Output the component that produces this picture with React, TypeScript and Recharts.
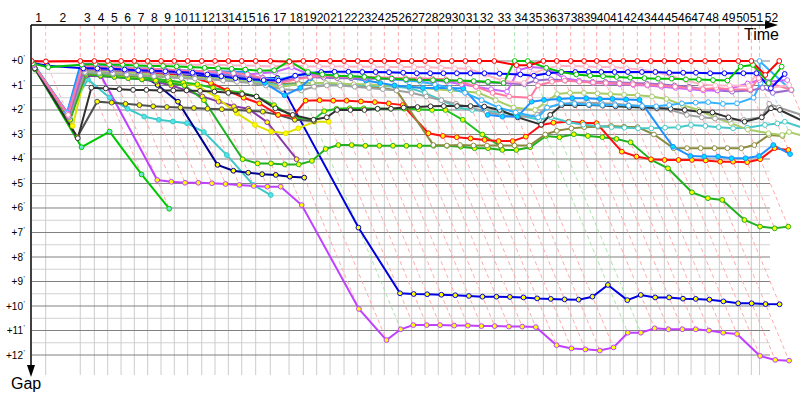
import React from 'react';
import { LineChart, Line, XAxis, YAxis, ReferenceLine } from 'recharts';

// leader's elapsed time (minutes) when each lap is completed, index = lap (0 = start)
const lapTimes = [
  0, 1.37, 4.76, 6.14, 7.45, 8.76, 10.06, 11.37, 12.68, 13.98,
  15.29, 16.67, 17.97, 19.28, 20.59, 21.96, 23.39, 25.23, 26.63, 27.94,
  29.25, 30.62, 31.96, 33.27, 34.57, 35.94, 37.25, 38.56, 39.86, 41.18,
  42.51, 43.88, 45.35, 47.35, 48.63, 50.16, 51.47, 52.84, 54.15, 55.39,
  56.70, 58.00, 59.37, 60.69, 62.02, 63.39, 64.64, 66.01, 67.41, 69.27,
  70.55, 71.35, 73.29,
];

const lapNumbers = [
  1, 2, 3, 4, 5, 6, 7, 8, 9, 10, 11, 12, 13, 14, 15, 16, 17, 18, 19, 20,
  21, 22, 23, 24, 25, 26, 27, 28, 29, 30, 31, 32, 33, 34, 35, 36, 37, 38, 39, 40,
  41, 42, 43, 44, 45, 46, 47, 48, 49, 50, 51, 52,
];

const gapTicks = [0, 1, 2, 3, 4, 5, 6, 7, 8, 9, 10, 11, 12];

// gap to the leader in minutes, one value per completed lap
const red = [
  0, 0.02, 0, 0, 0, 0, 0, 0, 0, 0,
  0, 0, 0, 0, 0, 0, 0, 0.03, 0, 0,
  0, 0, 0, 0, 0, 0, 0, 0, 0, 0,
  0, 0, 0, 0.17, 0.17, 0, 0, 0, 0, 0,
  0, 0, 0, 0, 0, 0, 0, 0, 0, 0,
  0, 0.57, 0,
];
const green = [
  0.1, 0.25, 0.15, 0.12, 0.15, 0.15, 0.18, 0.2, 0.2, 0.22,
  0.25, 0.28, 0.3, 0.32, 0.35, 0.4, 0.38, 0, 0.45, 0.55,
  0.6, 0.62, 0.65, 0.7, 0.72, 0.75, 0.78, 0.78, 0.8, 0.8,
  0.82, 0.85, 0.9, 0, 0, 0.28, 0.45, 0.55, 0.6, 0.62,
  0.65, 0.68, 0.7, 0.72, 0.72, 0.75, 0.76, 0.78, 0.8, 0.23,
  0.16, 0.9, 0.23,
];
const blue = [
  0.08, 0.19, 0.3, 0.3, 0.32, 0.35, 0.38, 0.4, 0.42, 0.45,
  0.48, 0.55, 0.62, 0.7, 0.75, 0.78, 0.8, 0.6, 0.5, 0.45,
  0.44, 0.44, 0.45, 0.45, 0.46, 0.48, 0.5, 0.5, 0.5, 0.5,
  0.5, 0.5, 0.52, 0.55, 0.6, 0.5, 0.45, 0.45, 0.45, 0.45,
  0.45, 0.45, 0.45, 0.45, 0.48, 0.48, 0.48, 0.5, 0.5, 0.5,
  0.5, 1.11, 0.53,
];
const lightPink = [
  0.05, 0, 0.05, 0.05, 0.08, 0.08, 0.1, 0.1, 0.12, 0.12,
  0.15, 0.15, 0.15, 0.18, 0.18, 0.2, 0.22, 0.15, 0.22, 0.22,
  0.22, 0.22, 0.24, 0.24, 0.25, 0.25, 0.25, 0.26, 0.28, 0.3,
  0.32, 0.55, 0.8, 0.9, 0.5, 0.3, 0.2, 0.2, 0.22, 0.25,
  0.25, 0.3, 0.35, 0.45, 0.6, 0.8, 0.95, 1.0, 1.0, 1.02,
  0.5, 1.1, 0.98,
];
const hotPink = [
  0.12, 2.2, 0.2, 0.22, 0.25, 0.28, 0.3, 0.32, 0.35, 0.38,
  0.4, 0.42, 0.45, 0.5, 0.55, 0.7, 0.9, 0.75, 0.65, 0.6,
  0.62, 0.64, 0.65, 0.66, 0.68, 0.7, 0.7, 0.72, 0.75, 0.85,
  1.05, 1.3, 1.45, 1.5, 1.0, 0.85, 0.8, 0.85, 0.88, 0.9,
  0.92, 0.95, 0.98, 1.0, 1.05, 1.1, 1.15, 1.1, 1.15, 1.16,
  0.7, 0.9, 1.18,
];
const violet = [
  0.15, 2.15, 0.25, 0.25, 0.28, 0.3, 0.32, 0.35, 0.38, 0.4,
  0.42, 0.45, 0.48, 0.5, 0.55, 0.5, 0.45, 0.25, 0.55, 0.6,
  0.62, 0.65, 0.68, 0.7, 0.72, 0.75, 0.78, 0.8, 0.85, 0.95,
  1.05, 1.15, 1.25, 0.37, 0.25, 0.3, 0.7, 0.8, 0.9, 0.92,
  0.95, 0.98, 1.0, 1.05, 1.1, 1.15, 1.2, 1.2, 1.12, 0.92,
  0.78, 0.85, 0.78,
];
const mediumPurple = [
  0.18, 2.25, 0.35, 0.35, 0.38, 0.4, 0.42, 0.45, 0.48, 0.5,
  0.52, 0.55, 0.58, 0.6, 0.65, 0.75, 0.85, 0.7, 0.65, 0.68,
  0.7, 0.7, 0.72, 0.72, 0.75, 0.75, 0.78, 0.8, 0.82, 0.82,
  0.85, 0.88, 0.9, 0.95, 0.8, 0.75, 0.8, 0.82, 0.85, 0.85,
  0.88, 0.9, 0.92, 0.95, 1.0, 1.05, 1.15, 1.2, 1.25, 1.2,
  1.1, 1.3, 1.18,
];
const dodgerBlue = [
  0.02, 2.1, 0.07, 0.15, 0.2, 0.25, 0.3, 0.32, 0.35, 0.38,
  0.4, 0.42, 0.42, 0.44, 0.44, 0.9, 1.4, 1.1, 0.7, 0.55,
  0.6, 0.7, 0.8, 0.9, 1.0, 1.05, 1.1, 1.1, 1.1, 1.12,
  2.2, 2.27, 2.27, 1.66, 1.59, 1.55, 1.52, 1.52, 1.55, 1.55,
  1.57, 1.59, 3.5, 3.88, 3.9, 3.9, 3.97, 3.97, 3.88, 3.43,
  3.8,
];
const deepSkyBlue = [
  0.15, 2.1, 0.2, 0.22, 0.25, 0.28, 0.3, 0.33, 0.36, 0.4,
  0.45, 0.5, 0.55, 0.6, 0.65, 0.7, 0.75, 0.6, 0.55, 0.58,
  0.6, 0.62, 0.65, 0.7, 0.75, 0.8, 0.85, 0.95, 1.1, 1.3,
  1.6, 1.9, 2.1, 2.3, 1.9, 1.75, 1.75, 1.78, 1.8, 1.8,
  1.82, 1.84, 1.85, 1.8, 1.73, 1.7, 1.68, 1.75, 1.73, 1.5,
  0.9, 0, 1.2,
];
const black = [
  0.3, 3.15, 1.09, 1.12, 1.15, 1.18, 1.18, 1.2, 1.2, 1.2,
  1.22, 1.25, 1.3, 1.35, 1.45, 1.93, 2.2, 2.4, 2.3, 2.0,
  2.0, 2.0, 1.95, 1.95, 1.9, 1.88, 1.85, 1.84, 1.84, 1.84,
  1.86, 2.0, 2.3, 2.6, 2.2, 1.8, 1.8, 1.8, 1.82, 1.85,
  1.88, 1.9, 1.92, 1.95, 2.0, 2.07, 2.1, 2.3, 2.48, 2.3,
  1.93, 2.0, 2.48,
];
const dimGray = [
  0.32, 3.1, 1.66, 1.7, 1.75, 1.8, 1.85, 1.88, 1.9, 1.92,
  1.95, 1.97, 2.0, 2.03, 2.07, 2.2, 2.4, 2.45,
];
const gray = [
  0.28, 2.3, 0.45, 0.48, 0.5, 0.55, 0.6, 0.62, 0.65, 0.7,
  0.72, 0.75, 0.8, 0.85, 0.9, 1.0, 1.15, 1.2, 1.05, 1.0,
  1.0, 1.05, 1.1, 1.15, 1.2, 1.3, 1.45, 1.6, 1.75, 1.9,
  2.1, 2.2, 2.3, 2.2, 1.9, 1.75, 1.7, 1.7, 1.72, 1.75,
  1.8, 1.85, 1.95, 2.0, 2.2, 2.3, 2.35, 2.4, 2.4, 2.3,
  1.75, 1.9, 2.2,
];
const yellowGreen = [
  0.2, 2.2, 0.4, 0.42, 0.45, 0.48, 0.5, 0.55, 0.6, 0.62,
  0.65, 0.7, 0.75, 0.8, 0.85, 0.95, 1.05, 0.95, 0.9, 0.9,
  0.92, 0.95, 0.95, 1.0, 1.0, 1.05, 1.1, 1.15, 1.2, 1.25,
  1.3, 1.6, 1.9, 2.0, 1.7, 1.35, 1.3, 1.3, 1.32, 1.35,
  1.38, 1.4, 1.45, 1.55, 1.8, 2.0, 2.3, 2.54, 2.8, 2.95,
  3.02, 2.9, 3.14,
];
const olive = [
  0.22, 2.25, 0.5, 0.52, 0.55, 0.58, 0.6, 0.62, 0.65, 0.68,
  0.7, 0.72, 0.75, 0.78, 0.8, 0.85, 0.95, 0.9, 0.9, 0.92,
  0.95, 1.0, 1.05, 1.1, 1.2, 3.43, 3.45, 3.43, 3.45, 3.45,
  3.45, 3.45, 3.45, 3.0, 2.85, 2.75, 2.7, 2.68, 2.65, 2.68,
  2.7, 3.0, 3.56, 3.56, 3.56, 3.56, 3.56, 3.56, 3.43, 3.02,
  3.06,
];
const turquoise2 = [
  0.18, 2.18, 0.45, 0.5, 0.52, 0.55, 0.58, 0.6, 0.62, 0.65,
  0.68, 0.7, 0.72, 0.75, 0.8, 0.9, 1.0, 0.95, 0.9, 0.92,
  0.95, 0.98, 1.0, 1.02, 1.05, 1.1, 1.3, 1.6, 1.9, 2.0,
  2.05, 2.1, 2.2, 2.4, 2.3, 2.5, 2.6, 2.65, 2.7, 2.72,
  2.75, 2.75, 2.72, 2.7, 2.61, 2.65, 2.7, 2.75, 2.72, 2.61,
  2.55, 2.48, 2.8,
];
const red2 = [
  0.2, 2.3, 0.35, 0.35, 0.38, 0.42, 0.45, 0.5, 0.55, 0.6,
  0.7, 0.9, 1.2, 1.5, 1.73, 2.2, 2.25, 1.62, 1.6, 1.62,
  1.62, 1.65, 1.68, 1.73, 1.8, 2.95, 3.06, 3.11, 3.16, 3.22,
  3.27, 3.27, 3.09, 2.61, 2.52, 2.48, 2.52, 2.54, 3.7, 3.9,
  4.01, 4.04, 4.04, 4.04, 4.06, 4.11, 4.11, 4.13, 4.01, 3.56,
  3.63,
];
const green2 = [
  0.25, 2.4, 0.55, 0.6, 0.65, 0.7, 0.75, 0.8, 0.9, 1.0,
  1.6, 4.01, 4.18, 4.18, 4.22, 4.22, 4.08, 3.59, 3.43, 3.43,
  3.46, 3.46, 3.46, 3.46, 3.46, 3.46, 3.46, 3.5, 3.56, 3.56,
  3.63, 3.63, 3.52, 3.06, 3.11, 2.99, 3.06, 3.11, 3.18, 3.32,
  4.04, 4.38, 5.36, 5.6, 5.67, 6.49, 6.76, 6.83, 6.76,
];
const green3 = [
  0.22, 2.35, 0.45, 0.5, 0.55, 0.6, 0.65, 0.72, 0.8, 0.88,
  0.95, 1.1, 1.2, 1.3, 1.45, 1.8, 2.3, 2.4, 2.05, 1.95,
  1.93, 1.93, 1.95, 1.95, 1.95, 1.97, 2.0, 2.0, 2.4, 3.0,
  3.5,
];
const yellow = [
  0.3, 2.65, 0.5, 0.55, 0.6, 0.65, 0.7, 0.75, 0.82, 0.91,
  1.02, 1.5, 2.13, 2.61, 2.88, 2.95, 2.75, 2.48, 2.48,
];
const purple = [
  0.28, 2.3, 0.6, 0.62, 0.65, 0.7, 0.75, 0.85, 1.0, 1.2,
  1.45, 1.66, 1.85, 1.95, 2.5, 4.01,
];
const navy = [
  0.25, 2.25, 0.3, 0.35, 0.4, 0.45, 0.55, 0.98, 1.66, 4.24,
  4.48, 4.56, 4.62, 4.65, 4.72, 4.76,
];
const magenta = [
  0.3, 2.4, 0.35, 0.44, 4.86, 4.93, 4.97, 4.97, 4.99, 5.02,
  5.06, 5.1, 5.13, 5.13, 5.88, 10.12, 11.39, 10.95, 10.78, 10.78,
  10.78, 10.8, 10.8, 10.82, 10.82, 10.84, 10.84, 10.86, 11.6, 11.73,
  11.77, 11.82, 11.69, 11.09, 11.09, 10.91, 10.95, 10.95, 10.95, 11.0,
  11.09, 11.14, 12.04, 12.2, 12.23,
];
const darkBlue = [
  0.2, 2.2, 0.4, 0.42, 0.45, 0.48, 0.5, 0.52, 0.55, 0.58,
  0.6, 0.62, 0.65, 0.67, 0.68, 0.7, 0.69, 6.8, 9.48, 9.51,
  9.52, 9.54, 9.56, 9.59, 9.62, 9.62, 9.63, 9.65, 9.69, 9.71,
  9.73, 9.74, 9.62, 9.14, 9.76, 9.55, 9.65, 9.65, 9.7, 9.71,
  9.74, 9.81, 9.89, 9.89, 9.92, 9.93,
];
const turquoise = [
  0.1, 2.16, 0.75, 1.5, 1.95, 2.27, 2.4, 2.47, 2.54, 2.9,
  3.84, 5.06, 5.47,
];
const limeGreen = [0.35, 3.52, 2.88, 4.63, 6.03];

// drawn in this order: first ones end up underneath
const drivers = [
  { gaps: limeGreen, color: '#00c800', fill: '#70e8d0' },
  { gaps: turquoise, color: '#3cc8c8', fill: '#50e4e4' },
  { gaps: navy, color: '#000090', fill: '#ffff00' },
  { gaps: purple, color: '#8a3aaa', fill: '#ffff00' },
  { gaps: magenta, color: '#c040ff', fill: '#ffff00' },
  { gaps: darkBlue, color: '#0000e0', fill: '#ffff00' },
  { gaps: yellow, color: '#e0e000', fill: '#ffff00' },
  { gaps: green3, color: '#20c020', fill: '#ffff00' },
  { gaps: green2, color: '#20b020', fill: '#ffff00' },
  { gaps: dimGray, color: '#505050', fill: '#ffff00' },
  { gaps: red2, color: '#ff1010', fill: '#ffff00' },
  { gaps: olive, color: '#8c8c40', fill: '#ffffff' },
  { gaps: turquoise2, color: '#48c8c8', fill: '#ffffff' },
  { gaps: yellowGreen, color: '#a8cc68', fill: '#ffffff' },
  { gaps: gray, color: '#a0a0a0', fill: '#ffffff' },
  { gaps: black, color: '#303030', fill: '#ffffff' },
  { gaps: dodgerBlue, color: '#1e90ff', fill: '#00e0ff' },
  { gaps: deepSkyBlue, color: '#30b0ff', fill: '#ffffff', lapLine: '#a8d8ff' },
  { gaps: mediumPurple, color: '#9a6acc', fill: '#ffffff' },
  { gaps: violet, color: '#c864ff', fill: '#ffffff' },
  { gaps: hotPink, color: '#ff7aa0', fill: '#ffffff' },
  { gaps: lightPink, color: '#ffb4c8', fill: '#ffffff', lapLine: '#ffb8c4' },
  { gaps: blue, color: '#0000ff', fill: '#ffffff' },
  { gaps: green, color: '#00c000', fill: '#ffffff', lapLine: '#a8e4a8' },
  { gaps: red, color: '#ff0000', fill: '#ffffff', lapLine: '#ffaaaa' },
];

const X_MAX = 75.32;
const Y_MIN = -1.469;
const Y_MAX = 12.816;
const GRID_END = 72.38;
const FONT = 'Liberation Sans, Arial, sans-serif';

// each lap is drawn at the driver's own time: leader time + gap
const series = drivers.map((d) => ({
  ...d,
  points: d.gaps.map((g, i) => ({ t: lapTimes[i] + g, g })),
}));

const lapInfo = lapNumbers.map((n) => {
  let lead = series[series.length - 1];
  let best = Infinity;
  let worst = 0;
  series.forEach((s) => {
    const g = s.gaps[n];
    if (g === undefined) return;
    if (g < best) { best = g; lead = s; }
    if (g > worst) worst = g;
  });
  return { n, t: lapTimes[n], maxGap: worst, color: lead.lapLine || '#ffaaaa' };
});

const lapMids = lapNumbers.map((n) => (lapTimes[n - 1] + lapTimes[n]) / 2);

// the last labels sit very close together; nudge them apart a little
const labelNudge: Record<number, number> = { 50: -2, 51: 1, 52: 2 };

const LapTick = (props: any) => {
  const { x, payload } = props;
  const n = lapNumbers[lapMids.indexOf(payload.value)];
  return (
    <text x={x + (labelNudge[n] || 0)} y={22} textAnchor="middle" fontSize={12} fontFamily={FONT} fill="#000">
      {n}
    </text>
  );
};

const GapTick = (props: any) => {
  const { y, payload } = props;
  return (
    <g>
      <text x={23} y={y + 3.5} textAnchor="end" fontSize={10} fontFamily={FONT} fill="#000">
        {'+' + payload.value}
      </text>
      <text x={23.5} y={y - 0.5} fontSize={7} fontFamily={FONT} fill="#000">'</text>
    </g>
  );
};

const halfLines = gapTicks.slice(0, 12).map((v) => v + 0.5);

export default function App() {
  return (
    <div style={{ position: 'absolute', left: 0, top: 0, width: 800, height: 400, background: '#fff' }}>
      <LineChart width={800} height={400} margin={{ top: 0, right: 0, bottom: 25, left: 0 }}>
        <XAxis
          type="number"
          dataKey="t"
          orientation="top"
          height={25}
          domain={[0, X_MAX]}
          allowDataOverflow
          ticks={lapMids}
          interval={0}
          tick={<LapTick />}
          axisLine={false}
          tickLine={false}
        />
        <YAxis
          type="number"
          dataKey="g"
          width={31.7}
          reversed
          domain={[Y_MIN, Y_MAX]}
          allowDataOverflow
          ticks={gapTicks}
          interval={0}
          tick={<GapTick />}
          axisLine={false}
          tickLine={false}
        />
        {halfLines.map((v) => (
          <ReferenceLine key={'h' + v} segment={[{ x: 0, y: v }, { x: GRID_END, y: v }]} stroke="#d2d2d2" ifOverflow="hidden" />
        ))}
        {lapInfo.filter((l) => l.n < 52).map((l) => (
          <ReferenceLine key={'v' + l.n} segment={[{ x: l.t, y: 0 }, { x: l.t, y: Y_MAX }]} stroke="#cccccc" ifOverflow="hidden" />
        ))}
        {gapTicks.map((v) => (
          <ReferenceLine key={'m' + v} segment={[{ x: 0, y: v }, { x: GRID_END, y: v }]} stroke="#808080" ifOverflow="hidden" />
        ))}
        {lapInfo.filter((l) => l.n < 52).map((l) => (
          <ReferenceLine key={'u' + l.n} segment={[{ x: l.t, y: Y_MIN }, { x: l.t, y: 0 }]} stroke={l.color} strokeDasharray="4 3" ifOverflow="hidden" />
        ))}
        {lapInfo.map((l) => (
          <ReferenceLine
            key={'d' + l.n}
            segment={[{ x: l.t, y: 0 }, { x: l.t + l.maxGap, y: l.maxGap }]}
            stroke={l.color}
            strokeDasharray="4 3"
            ifOverflow="hidden"
          />
        ))}
        {series.map((s, i) => (
          <Line
            key={i}
            data={s.points}
            dataKey="g"
            type="linear"
            stroke={s.color}
            strokeWidth={2}
            dot={{ r: 2.4, fill: s.fill, stroke: s.color, strokeWidth: 1 }}
            isAnimationActive={false}
          />
        ))}
      </LineChart>
      <svg width={800} height={400} style={{ position: 'absolute', left: 0, top: 0, pointerEvents: 'none' }}>
        <line x1={31} y1={25} x2={766} y2={25} stroke="#000" strokeWidth={1.5} />
        <polygon points="765,21 778,25 765,29" fill="#000" />
        <line x1={31} y1={25} x2={31} y2={366} stroke="#000" strokeWidth={1.5} />
        <polygon points="27,365 31,377 35,365" fill="#000" />
        <text x={744} y={40} fontSize={16} fontFamily={FONT} fill="#000">Time</text>
        <text x={11} y={389} fontSize={16} fontFamily={FONT} fill="#000">Gap</text>
      </svg>
    </div>
  );
}
